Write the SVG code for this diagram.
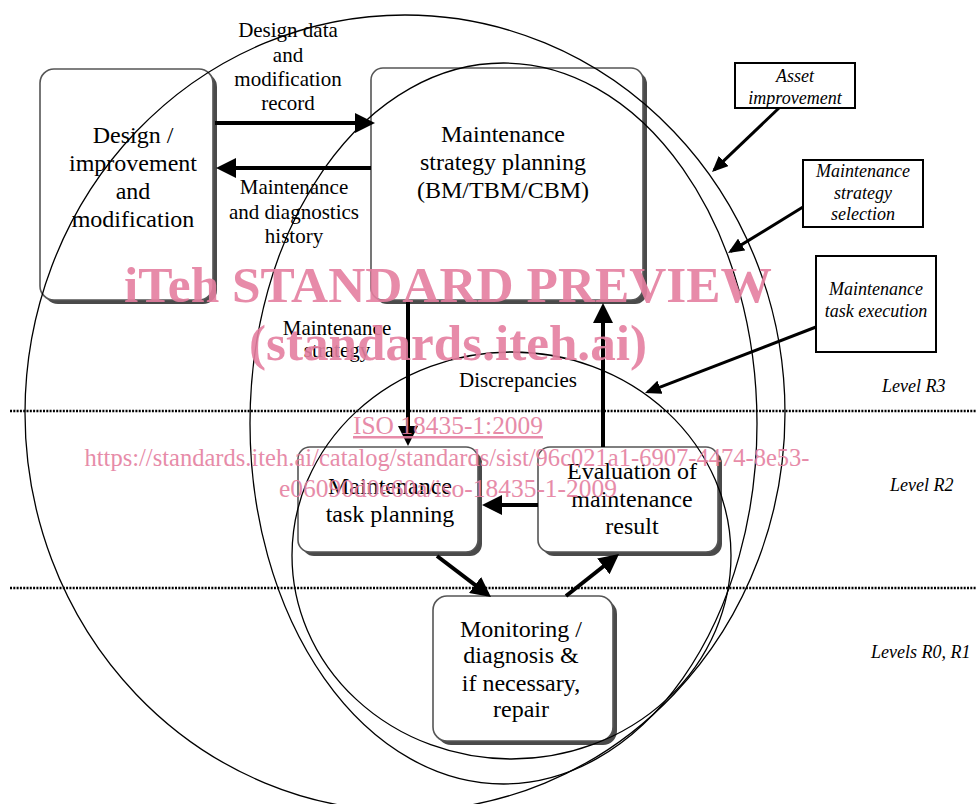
<svg xmlns="http://www.w3.org/2000/svg" width="976" height="804" viewBox="0 0 976 804">
<style>
.bg{fill:#fff}
.shadow{fill:#4a4a4a}
.box{fill:#fff;stroke:#555;stroke-width:1.6}
.lb{fill:#fff;stroke:#000;stroke-width:2}
.t{font-family:"Liberation Serif","Times New Roman",serif;font-size:24px;text-anchor:middle;fill:#000}
.e{font-family:"Liberation Serif","Times New Roman",serif;font-size:21px;text-anchor:middle;fill:#000}
.it{font-family:"Liberation Serif","Times New Roman",serif;font-size:18px;font-style:italic;text-anchor:middle;fill:#000}
.lv{font-family:"Liberation Serif","Times New Roman",serif;font-size:18px;font-style:italic;fill:#000}
.ell{fill:none;stroke:#000;stroke-width:1.3}
.dot{stroke:#000;stroke-width:2.5;stroke-dasharray:2 1.3;fill:none}
.thick{stroke:#000;stroke-width:4;fill:none;marker-end:url(#ah)}
.thin{stroke:#000;stroke-width:3;fill:none;marker-end:url(#ahs)}
.wm{font-family:"Liberation Serif","Times New Roman",serif;fill:#e57fa0;text-anchor:middle;opacity:0.9}
</style>
<defs>
<marker id="ah" markerUnits="userSpaceOnUse" markerWidth="20" markerHeight="20" refX="16" refY="10" orient="auto">
<path d="M0,0 L20,10 L0,20 z" fill="#000"/>
</marker>
<marker id="ahs" markerUnits="userSpaceOnUse" markerWidth="16" markerHeight="14" refX="13" refY="7" orient="auto">
<path d="M0,0 L16,7 L0,14 z" fill="#000"/>
</marker>
</defs>
<rect class="bg" x="0" y="0" width="976" height="804"/>

<g id="node-design">
<rect class="shadow" x="44" y="73" width="173" height="231" rx="14"/>
<rect class="box" x="40" y="69" width="173" height="231" rx="14"/>
<text class="t"><tspan x="133" y="143">Design /</tspan><tspan x="133" y="171">improvement</tspan><tspan x="133" y="199">and</tspan><tspan x="133" y="227">modification</tspan></text>
</g>
<g id="node-strategy">
<rect class="shadow" x="375" y="72" width="272" height="232" rx="12"/>
<rect class="box" x="371" y="68" width="272" height="232" rx="12"/>
<text class="t"><tspan x="503" y="142">Maintenance</tspan><tspan x="503" y="170">strategy planning</tspan><tspan x="503" y="198">(BM/TBM/CBM)</tspan></text>
</g>
<g id="node-taskplanning">
<rect class="shadow" x="302" y="451" width="180" height="105" rx="12"/>
<rect class="box" x="298" y="447" width="180" height="105" rx="12"/>
<text class="t"><tspan x="390" y="494">Maintenance</tspan><tspan x="390" y="522">task planning</tspan></text>
</g>
<g id="node-evaluation">
<rect class="shadow" x="542" y="451" width="180" height="105" rx="12"/>
<rect class="box" x="538" y="447" width="180" height="105" rx="12"/>
<text class="t"><tspan x="632" y="479">Evaluation of</tspan><tspan x="632" y="507">maintenance</tspan><tspan x="632" y="534">result</tspan></text>
</g>
<g id="node-monitoring">
<rect class="shadow" x="437" y="600" width="180" height="145" rx="14"/>
<rect class="box" x="433" y="596" width="180" height="145" rx="14"/>
<text class="t"><tspan x="521" y="637">Monitoring /</tspan><tspan x="521" y="663">diagnosis &amp;</tspan><tspan x="521" y="691">if necessary,</tspan><tspan x="521" y="717">repair</tspan></text>
</g>

<g id="scopes">
<ellipse class="ell" cx="405" cy="413" rx="380" ry="398"/>
<ellipse class="ell" cx="503.5" cy="423.5" rx="253.5" ry="360.5"/>
<ellipse class="ell" cx="511.5" cy="555.5" rx="219.5" ry="203.5"/>
</g>

<g id="levels">
<line class="dot" x1="10" y1="411" x2="976" y2="411"/>
<line class="dot" x1="10" y1="588" x2="976" y2="588"/>
<text class="lv" x="882" y="392">Level R3</text>
<text class="lv" x="890" y="491">Level R2</text>
<text class="lv" x="871" y="658">Levels R0, R1</text>
</g>

<g id="node-asset">
<rect class="lb" x="735" y="63" width="120" height="45"/>
<text class="it"><tspan x="795" y="82">Asset</tspan><tspan x="795" y="104">improvement</tspan></text>
</g>
<g id="node-selection">
<rect class="lb" x="803" y="160" width="120" height="67"/>
<text class="it"><tspan x="863" y="177">Maintenance</tspan><tspan x="863" y="199">strategy</tspan><tspan x="863" y="220">selection</tspan></text>
</g>
<g id="node-execution">
<rect class="lb" x="816" y="256" width="120" height="96"/>
<text class="it"><tspan x="876" y="295">Maintenance</tspan><tspan x="876" y="317">task execution</tspan></text>
</g>

<g id="connectors">
<line class="thick" x1="215" y1="123" x2="371" y2="123"/>
<line class="thick" x1="371" y1="168" x2="220" y2="168"/>
<line class="thick" x1="408" y1="302" x2="408" y2="442"/>
<line class="thick" x1="603" y1="447" x2="603" y2="307"/>
<line class="thick" x1="538" y1="505" x2="486" y2="505"/>
<line class="thick" x1="437" y1="556" x2="487.8" y2="594.6"/>
<line class="thick" x1="566" y1="596" x2="615.9" y2="556.5"/>
<line class="thin" x1="779" y1="108" x2="714.2" y2="169.9"/>
<line class="thin" x1="803" y1="207" x2="730.6" y2="251.4"/>
<line class="thin" x1="816" y1="327" x2="647.8" y2="391.9"/>
<text class="e"><tspan x="288" y="37">Design data</tspan><tspan x="288" y="62">and</tspan><tspan x="288" y="86">modification</tspan><tspan x="288" y="110">record</tspan></text>
<text class="e"><tspan x="294" y="194">Maintenance</tspan><tspan x="294" y="219">and diagnostics</tspan><tspan x="294" y="243">history</tspan></text>
<text class="e"><tspan x="337" y="335">Maintenance</tspan><tspan x="337" y="357">strategy</tspan></text>
<text class="e" x="518" y="387">Discrepancies</text>
</g>

<g id="watermark">
<text class="wm" x="448" y="302" font-size="50" font-weight="bold" textLength="648" lengthAdjust="spacingAndGlyphs">iTeh STANDARD PREVIEW</text>
<text class="wm" x="448" y="360" font-size="50" font-weight="bold" textLength="398" lengthAdjust="spacingAndGlyphs">(standards.iteh.ai)</text>
<text class="wm" x="448" y="434" font-size="25" text-decoration="underline" textLength="190" lengthAdjust="spacingAndGlyphs">ISO 18435-1:2009</text>
<text class="wm" x="447" y="466" font-size="24.5" textLength="725" lengthAdjust="spacingAndGlyphs">https://standards.iteh.ai/catalog/standards/sist/96c021a1-6907-4474-8e53-</text>
<text class="wm" x="448" y="497" font-size="24.5" textLength="338" lengthAdjust="spacingAndGlyphs">e06090d0e60a/iso-18435-1-2009</text>
</g>
</svg>
